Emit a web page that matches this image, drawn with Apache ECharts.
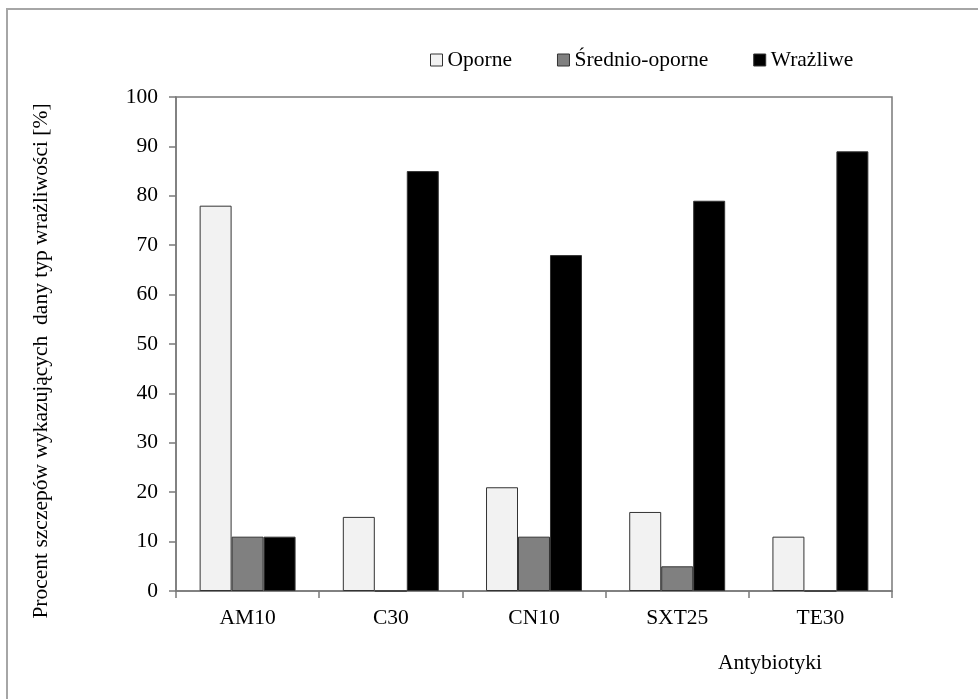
<!DOCTYPE html>
<html>
<head>
<meta charset="utf-8">
<script src="https://cdn.jsdelivr.net/npm/echarts@6/dist/echarts.min.js"></script>
<style>
html,body{margin:0;padding:0;background:#fff;}
#chart{width:978px;height:699px;}
</style>
</head>
<body>
<div id="chart"></div>
<script>
const categories = ['AM10', 'C30', 'CN10', 'SXT25', 'TE30'];
const seriesNames = ['Oporne', 'Średnio-oporne', 'Wrażliwe'];
const oporne = [78, 15, 21, 16, 11];
const sredniooporne = [11, 0, 11, 5, 0];
const wrazliwe = [11, 85, 68, 79, 89];
const yTicks = [0, 10, 20, 30, 40, 50, 60, 70, 80, 90, 100];

const FONT = "'Liberation Serif', 'Times New Roman', serif";
const FS = 21.5;
const colors = ['#f2f2f2', '#808080', '#000000'];
const values = [oporne, sredniooporne, wrazliwe];

const chart = echarts.init(document.getElementById('chart'), null, {renderer: 'canvas'});
chart.setOption({
  animation: false,
  backgroundColor: '#ffffff',
  textStyle: {fontFamily: FONT, color: '#000'},
  graphic: [{
    type: 'rect',
    shape: {x: 7, y: 9, width: 1100, height: 900},
    style: {fill: 'none', stroke: '#a6a6a6', lineWidth: 2},
    silent: true
  }],
  legend: {
    left: 425,
    top: 44,
    itemWidth: 12,
    itemHeight: 12,
    itemGap: 45,
    icon: 'rect',
    itemStyle: {borderColor: '#333', borderWidth: 1},
    textStyle: {fontFamily: FONT, fontSize: FS, color: '#000'},
    data: seriesNames
  },
  grid: {
    left: 176, right: 86, top: 97, bottom: 108,
    show: true, borderColor: '#7a7a7a', borderWidth: 1.5,
    containLabel: false
  },
  xAxis: {
    type: 'category',
    data: categories,
    boundaryGap: true,
    name: 'Antybiotyki',
    nameLocation: 'end',
    nameGap: -122,
    nameTextStyle: {fontFamily: FONT, fontSize: FS, color: '#000', align: 'center', verticalAlign: 'top', padding: [61, 0, 0, 0]},
    axisLine: {show: true, lineStyle: {color: '#7a7a7a', width: 1.5}},
    axisTick: {show: true, length: 7, inside: false, alignWithLabel: false, lineStyle: {color: '#7a7a7a', width: 1.5}},
    axisLabel: {fontFamily: FONT, fontSize: FS, color: '#000', margin: 16},
    splitLine: {show: false}
  },
  yAxis: {
    type: 'value',
    min: 0, max: 100, interval: 10,
    name: 'Procent szczepów wykazujących  dany typ wrażliwości [%]',
    nameLocation: 'middle',
    nameGap: 124,
    nameTextStyle: {fontFamily: FONT, fontSize: FS, color: '#000', padding: [0, 34, 0, 0]},
    axisLine: {show: true, lineStyle: {color: '#7a7a7a', width: 1.5}},
    axisTick: {show: true, length: 7, inside: false, lineStyle: {color: '#7a7a7a', width: 1.5}},
    axisLabel: {fontFamily: FONT, fontSize: FS, color: '#000', margin: 18,
      formatter: function (v) { return yTicks.indexOf(v) >= 0 ? String(v) : ''; }},
    splitLine: {show: false}
  },
  series: seriesNames.map(function (n, i) {
    return {
      name: n,
      type: 'bar',
      data: values[i],
      barGap: '0%',
      barCategoryGap: '33%',
      itemStyle: {color: colors[i], borderColor: '#333', borderWidth: 1}
    };
  })
});
</script>
</body>
</html>
